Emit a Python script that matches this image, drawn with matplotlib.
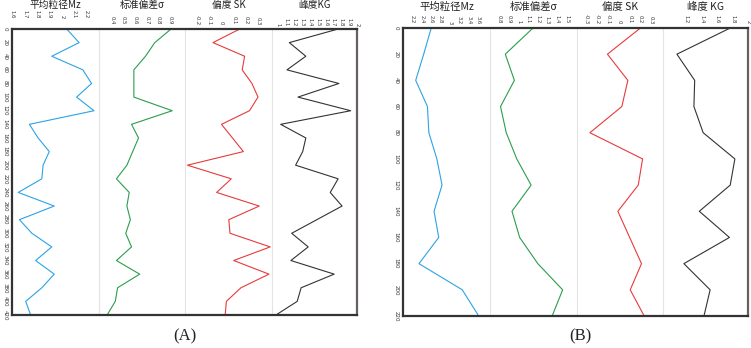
import matplotlib.pyplot as plt

plt.rcParams['font.family'] = ['Noto Sans CJK SC', 'DejaVu Sans']

# ---- panel A: depth 0..420 step 20 ----
depth_a = [0, 20, 40, 60, 80, 100, 120, 140, 160, 180, 200, 220, 240, 260, 280,
           300, 320, 340, 360, 380, 400, 420]
mz_a = [2.04, 2.14, 1.92, 2.17, 2.24, 2.12, 2.26, 1.74, 1.81, 1.90, 1.85, 1.84,
        1.65, 1.94, 1.66, 1.76, 1.92, 1.79, 1.94, 1.84, 1.71, 1.75]
sd_a = [0.91, 0.77, 0.69, 0.59, 0.59, 0.59, 0.92, 0.57, 0.63, 0.58, 0.53, 0.44,
        0.55, 0.53, 0.56, 0.52, 0.57, 0.44, 0.64, 0.45, 0.43, 0.36]
sk_a = [0.15, -0.07, 0.19, 0.17, 0.25, 0.30, 0.23, 0.00, 0.09, 0.18, -0.28, 0.08,
        -0.04, 0.31, 0.06, 0.07, 0.40, 0.10, 0.39, 0.16, 0.04, 0.03]
kg_a = [1.76, 1.14, 1.35, 1.11, 1.77, 1.25, 1.92, 1.03, 1.35, 1.31, 1.22, 1.76,
        1.66, 1.81, 1.49, 1.17, 1.38, 1.16, 1.71, 1.29, 1.24, 0.97]

# ---- panel B: depth 0..220 step 20 ----
depth_b = [0, 20, 40, 60, 80, 100, 120, 140, 160, 180, 200, 220]
mz_b = [2.60, 2.44, 2.27, 2.52, 2.55, 2.72, 2.83, 2.66, 2.76, 2.34, 3.26, 3.61]
sd_b = [1.15, 0.86, 0.955, 0.81, 0.87, 0.98, 1.13, 0.93, 1.01, 1.20, 1.46, 1.35]
sk_b = [0.20, -0.107, 0.083, 0.027, -0.27, 0.22, 0.18, -0.01, 0.10, 0.21, 0.105, 0.235]
kg_b = [1.77, 1.08, 1.31, 1.30, 1.42, 1.83, 1.77, 1.37, 1.76, 1.17, 1.51, 1.43]

titles_a = ['平均粒径Mz', '标准偏差σ', '偏度 SK', '峰度KG']
titles_b = ['平均粒径Mz', '标准偏差σ', '偏度 SK', '峰度 KG']

ticks_a = [[1.6, 1.7, 1.8, 1.9, 2, 2.1, 2.2],
           [0.4, 0.5, 0.6, 0.7, 0.8, 0.9],
           [-0.2, -0.1, 0, 0.1, 0.2, 0.3],
           [1, 1.1, 1.2, 1.3, 1.4, 1.5, 1.6, 1.7, 1.8, 1.9, 2]]
ticks_b = [[2.2, 2.4, 2.6, 2.8, 3, 3.2, 3.4, 3.6],
           [0.8, 0.9, 1, 1.1, 1.2, 1.3, 1.4, 1.5],
           [-0.3, -0.2, -0.1, 0, 0.1, 0.2, 0.3],
           [1.2, 1.4, 1.6, 1.8, 2]]
lims_a = [(1.6, 2.30), (0.29, 1.03), (-0.30, 0.415), (0.92, 2.0)]
lims_b = [(2.0, 3.85), (0.70, 1.61), (-0.39, 0.41), (0.90, 2.0)]
pads_a = [8, 3, 3, 2]
pads_b = [3, 3, 3, 3]

colors = ['#2ba3e6', '#2a9e4c', '#e63b3b', '#333333']

W, H = 751, 348
fig = plt.figure(figsize=(W / 100, H / 100), dpi=100)


def fmt(v):
    return ('%g' % v)


def panel(xs, top, bottom, depth, series, titles, ticks, lims, pads, ymax, title_size, title_y):
    for i in range(4):
        x0, x1 = xs[i], xs[i + 1]
        ax = fig.add_axes([x0 / W, 1 - bottom / H, (x1 - x0) / W, (bottom - top) / H])
        ax.plot(series[i], depth, color=colors[i], lw=0.8)
        ax.set_xlim(lims[i])
        ax.set_ylim(ymax, 0)
        ax.xaxis.tick_top()
        ax.set_xticks(ticks[i])
        ax.set_xticklabels([fmt(t) for t in ticks[i]], rotation=-90, fontsize=3.8,
                           family='DejaVu Sans', color='#333333')
        ax.tick_params(axis='x', length=0, pad=pads[i])
        for s in ax.spines.values():
            s.set_visible(False)
        if i > 0:
            ax.spines['left'].set_visible(True)
            ax.spines['left'].set_color('#e4e4e4')
            ax.spines['left'].set_linewidth(0.8)
            ax.set_yticks([])
        else:
            ax.set_yticks(range(0, ymax + 1, 20))
            ax.set_yticklabels([str(v) for v in range(0, ymax + 1, 20)], rotation=-90,
                               fontsize=4.0, family='DejaVu Sans', color='#333333',
                               va='center')
            ax.tick_params(axis='y', length=0, pad=3)
        fig.text((x0 + x1) / 2 / W, 1 - title_y / H, titles[i], ha='center', va='center',
                 fontsize=title_size, color='#222222')
    # outer frame
    fr = fig.add_axes([xs[0] / W, 1 - bottom / H, (xs[-1] - xs[0]) / W, (bottom - top) / H])
    fr.patch.set_visible(False)
    fr.set_xticks([])
    fr.set_yticks([])
    for s in fr.spines.values():
        s.set_linewidth(1.6)
        s.set_color('#333333')
    fr.spines['right'].set_color('#666060')


panel([12, 99, 185, 272, 357], 29, 315, depth_a, [mz_a, sd_a, sk_a, kg_a],
      titles_a, ticks_a, lims_a, pads_a, 420, 7, 5)
panel([403, 490, 577, 663, 748], 28, 316, depth_b, [mz_b, sd_b, sk_b, kg_b],
      titles_b, ticks_b, lims_b, pads_b, 220, 7.5, 7)

fig.text(185 / W, 1 - 336 / H, '(A)', ha='center', va='center', fontsize=12,
         family='Liberation Serif', color='#222222')
fig.text(580 / W, 1 - 336 / H, '(B)', ha='center', va='center', fontsize=12,
         family='Liberation Serif', color='#222222')

fig.savefig('out.png', dpi=100)
